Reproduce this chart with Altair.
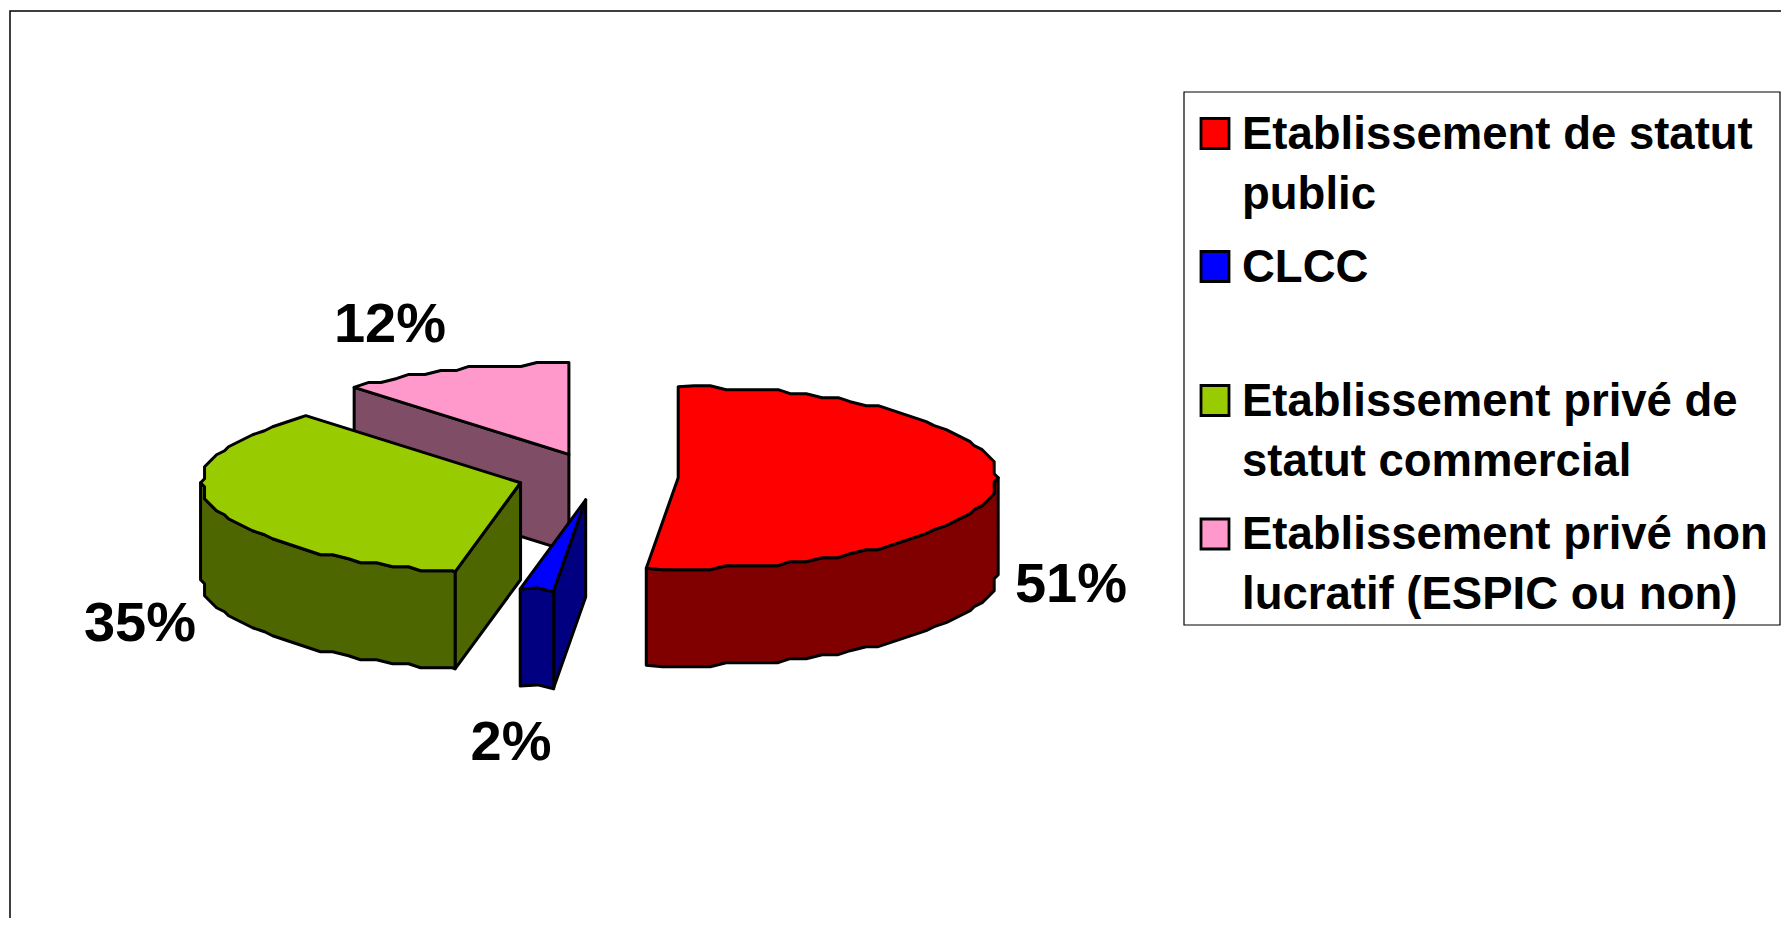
import math
import altair as alt
import pandas as pd

# Values (labels are the rounded shares)
categories = ["Etablissement de statut public", "CLCC",
              "Etablissement privé de statut commercial",
              "Etablissement privé non lucratif (ESPIC ou non)"]
shares = [51.6, 1.7, 34.9, 11.8]
labels = ["51%", "2%", "35%", "12%"]
top_colors = ["#ff0000", "#0000ff", "#99cc00", "#ff99cc"]
side_colors = ["#800000", "#000080", "#4d6600", "#804d66"]
legend_lines = [["Etablissement de statut", "public"], ["CLCC", " "],
                ["Etablissement privé de", "statut commercial"],
                ["Etablissement privé non", "lucratif (ESPIC ou non)"]]

# Pie geometry in picture units
CX, CY, RX, RY, DEPTH, EXPLODE = 598, 476.5, 318, 91, 97, 0.2525
SNAP = 4
STEP = 3


def rim(ax, ay, a0, a1):
    # rim of a slice, on a fixed angular grid so that faces share their points
    grid = [a for a in range(0, 361, STEP) if a0 < a < a1]
    pts = []
    for a in [a0] + grid + [a1]:
        r = math.radians(a)
        x, y = ax + RX * math.sin(r), ay - RY * math.cos(r)
        if a in grid:  # the source's coarse, stepped outline
            x = ax + round((x - ax) / SNAP) * SNAP
            y = ay + round((y - ay) / SNAP) * SNAP
        pts.append((x, y))
    return pts


polys = []
rows = []


def add(points, fill):
    pid = len(polys)
    polys.append(fill)
    closed = list(points) + [points[0]]
    for k, (x, y) in enumerate(closed):
        rows.append({"pid": pid, "k": k, "x": x, "y": y})


starts = []
run = 0.0
for s in shares:
    starts.append(run)
    run += s * 3.6

faces = {}
for i, s in enumerate(shares):
    a0, a1 = starts[i], starts[i] + s * 3.6
    mid = math.radians((a0 + a1) / 2)
    ax = CX + EXPLODE * RX * math.sin(mid)
    ay = CY - EXPLODE * RY * 1.03 * math.cos(mid)
    faces[i] = (ax, ay, a0, a1)

for i in [3, 2, 1, 0]:  # back to front
    ax, ay, a0, a1 = faces[i]
    # cut face at the start angle, when it faces the viewer
    if 180 < a0 < 360:
        e = rim(ax, ay, a0, a0)[0]
        add([(ax, ay), e, (e[0], e[1] + DEPTH), (ax, ay + DEPTH)], side_colors[i])
    # outer wall: the front part of the rim
    w0, w1 = max(a0, 90), min(a1, 270)
    if w1 > w0:
        top_rim = rim(ax, ay, a0, a1)
        grid_front = [p for p, a in zip(top_rim, [a0] + [g for g in range(0, 361, STEP) if a0 < g < a1] + [a1])
                      if w0 <= a <= w1]
        add(grid_front + [(x, y + DEPTH) for x, y in reversed(grid_front)], side_colors[i])
    # top face
    add([(ax, ay)] + rim(ax, ay, a0, a1), top_colors[i])

df = pd.DataFrame(rows)

W, H = 1773, 910
xs = alt.Scale(domain=[8, 8 + W], range=[0, W])
ys = alt.Scale(domain=[8 + H, 8], range=[H, 0])
X = lambda f: alt.X(f, type="quantitative", scale=xs, axis=None)
Y = lambda f: alt.Y(f, type="quantitative", scale=ys, axis=None)

layers = []

frame = pd.DataFrame({"x": [10], "x2": [1800], "y": [11], "y2": [940]})
layers.append(alt.Chart(frame).mark_rect(fill="white", stroke="#000000", strokeWidth=1.5).encode(
    x=X("x"), x2="x2", y=Y("y"), y2="y2"))

for pid, fill in enumerate(polys):
    layers.append(alt.Chart(df[df.pid == pid]).mark_line(
        fill=fill, stroke="#000000", strokeWidth=3, strokeJoin="round", strokeCap="round"
    ).encode(x=X("x"), y=Y("y"), order=alt.Order("k:Q")))

# Data labels
label_df = pd.DataFrame({"label": labels, "x": [1071, 511, 140, 390], "y": [585, 743, 624, 325]})
layers.append(alt.Chart(label_df).mark_text(
    font="Liberation Sans", fontWeight="bold", fontSize=56, color="#000000", align="center", baseline="middle"
).encode(x=X("x"), y=Y("y"), text="label:N"))

# Legend
box = pd.DataFrame({"x": [1184], "x2": [1780], "y": [92], "y2": [625]})
layers.append(alt.Chart(box).mark_rect(fill="white", stroke="#000000", strokeWidth=1.2).encode(
    x=X("x"), x2="x2", y=Y("y"), y2="y2"))
entry_y = [133.5, 266.5, 400.5, 534]
swatch = pd.DataFrame({"cat": categories, "fill": top_colors, "x": 1201, "x2": 1229,
                       "y": [v - 15 for v in entry_y], "y2": [v + 15 for v in entry_y]})
layers.append(alt.Chart(swatch).mark_rect(stroke="#000000", strokeWidth=2.8).encode(
    x=X("x"), x2="x2", y=Y("y"), y2="y2", fill=alt.Fill("fill:N", scale=None)))
text_rows = []
for ey, lines in zip(entry_y, legend_lines):
    for j, line in enumerate(lines):
        if line.strip():
            text_rows.append({"t": line, "x": 1242, "y": ey + 1 + j * 60})
layers.append(alt.Chart(pd.DataFrame(text_rows)).mark_text(
    font="Liberation Sans", fontWeight="bold", fontSize=45.5, color="#000000", align="left", baseline="middle"
).encode(x=X("x"), y=Y("y"), text="t:N"))

chart = alt.layer(*layers).properties(
    width=W, height=H, padding=0, autosize=alt.AutoSizeParams(type="none"), background="white"
).configure_view(stroke=None)

chart.save("out.html", embed_options={"renderer": "svg", "actions": False})
